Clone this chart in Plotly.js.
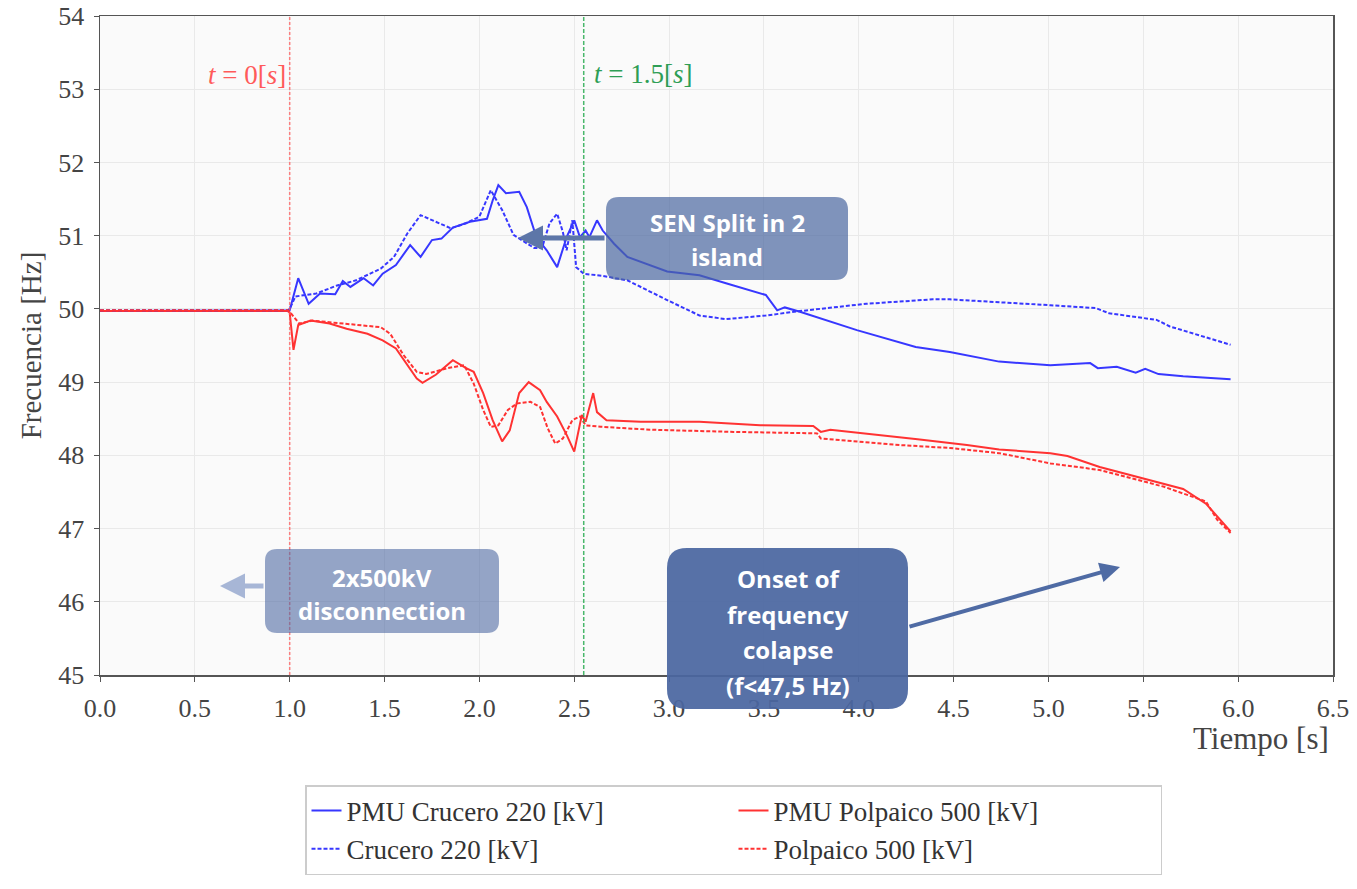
<!DOCTYPE html>
<html>
<head>
<meta charset="utf-8">
<script src="https://cdn.plot.ly/plotly-3.0.1.min.js"></script>
<style>html,body{margin:0;padding:0;background:#fff;}#chart{width:1357px;height:889px;}</style>
</head>
<body>
<div id="chart"></div>
<script>
// ---- Data ----
const tPmuCrucero = [0.0, 0.5, 0.99, 1.00, 1.045, 1.10, 1.16, 1.24, 1.28, 1.32, 1.39, 1.44, 1.49, 1.56, 1.635, 1.69, 1.75, 1.80, 1.86, 1.95, 2.04, 2.07, 2.10, 2.14, 2.21, 2.25, 2.30, 2.355, 2.41, 2.46, 2.50, 2.53, 2.56, 2.58, 2.62, 2.65, 2.71, 2.78, 2.99, 3.16, 3.30, 3.51, 3.57, 3.61, 3.69, 3.99, 4.30, 4.48, 4.74, 5.01, 5.22, 5.26, 5.36, 5.46, 5.51, 5.58, 5.71, 5.96];
const fPmuCrucero = [49.97, 49.97, 49.97, 49.98, 50.42, 50.07, 50.21, 50.20, 50.38, 50.30, 50.42, 50.32, 50.48, 50.60, 50.87, 50.71, 50.94, 50.96, 51.11, 51.19, 51.23, 51.48, 51.69, 51.58, 51.60, 51.39, 50.98, 50.80, 50.57, 50.98, 51.21, 50.98, 51.07, 50.98, 51.21, 51.07, 50.89, 50.71, 50.51, 50.46, 50.35, 50.19, 49.98, 50.02, 49.96, 49.71, 49.48, 49.41, 49.28, 49.23, 49.26, 49.19, 49.21, 49.13, 49.18, 49.11, 49.08, 49.04];

const tSimCrucero = [0.0, 0.99, 1.00, 1.03, 1.14, 1.25, 1.35, 1.48, 1.55, 1.62, 1.69, 1.77, 1.85, 1.93, 2.00, 2.06, 2.12, 2.18, 2.21, 2.29, 2.33, 2.37, 2.41, 2.44, 2.46, 2.49, 2.51, 2.55, 2.65, 2.78, 2.99, 3.16, 3.30, 3.51, 3.69, 4.04, 4.39, 4.48, 5.01, 5.25, 5.32, 5.57, 5.64, 5.96];
const fSimCrucero = [49.98, 49.98, 50.00, 50.17, 50.21, 50.32, 50.39, 50.55, 50.71, 51.03, 51.28, 51.19, 51.10, 51.17, 51.26, 51.62, 51.35, 51.01, 50.96, 50.83, 50.83, 51.17, 51.30, 51.05, 50.80, 51.21, 50.57, 50.48, 50.45, 50.39, 50.12, 49.91, 49.86, 49.91, 49.97, 50.07, 50.13, 50.13, 50.05, 50.01, 49.94, 49.85, 49.76, 49.51];

const tPmuPolpaico = [0.0, 0.99, 1.00, 1.02, 1.045, 1.11, 1.21, 1.30, 1.41, 1.49, 1.56, 1.62, 1.67, 1.70, 1.77, 1.86, 1.93, 1.97, 2.02, 2.07, 2.12, 2.16, 2.21, 2.26, 2.32, 2.355, 2.41, 2.46, 2.50, 2.54, 2.56, 2.60, 2.62, 2.67, 2.85, 3.16, 3.48, 3.76, 3.80, 3.85, 4.04, 4.31, 4.57, 4.74, 5.01, 5.10, 5.27, 5.535, 5.71, 5.83, 5.89, 5.96];
const fPmuPolpaico = [49.97, 49.97, 49.95, 49.44, 49.78, 49.84, 49.80, 49.73, 49.66, 49.57, 49.46, 49.23, 49.05, 48.99, 49.10, 49.30, 49.19, 49.14, 48.85, 48.48, 48.19, 48.34, 48.85, 49.00, 48.89, 48.73, 48.53, 48.28, 48.05, 48.55, 48.46, 48.85, 48.59, 48.48, 48.46, 48.46, 48.41, 48.40, 48.32, 48.35, 48.30, 48.22, 48.14, 48.08, 48.03, 47.99, 47.84, 47.66, 47.54, 47.34, 47.16, 46.96];

const tSimPolpaico = [0.0, 0.99, 1.00, 1.05, 1.12, 1.39, 1.48, 1.53, 1.60, 1.67, 1.72, 1.83, 1.92, 1.97, 2.02, 2.06, 2.10, 2.15, 2.20, 2.27, 2.32, 2.36, 2.40, 2.44, 2.49, 2.53, 2.56, 2.64, 2.90, 3.34, 3.78, 3.80, 4.22, 4.48, 4.74, 5.01, 5.27, 5.61, 5.83, 5.89, 5.96];
const fSimPolpaico = [49.98, 49.98, 49.96, 49.80, 49.84, 49.78, 49.75, 49.66, 49.37, 49.14, 49.11, 49.19, 49.23, 48.98, 48.62, 48.39, 48.41, 48.62, 48.71, 48.73, 48.66, 48.37, 48.16, 48.23, 48.48, 48.53, 48.41, 48.39, 48.35, 48.32, 48.30, 48.23, 48.14, 48.10, 48.03, 47.89, 47.80, 47.57, 47.37, 47.12, 46.94];

const seriesNames = ['PMU Crucero 220 [kV]', 'PMU Polpaico 500 [kV]', 'Crucero 220 [kV]', 'Polpaico 500 [kV]'];
const eventTimes = [1.0, 2.55];
const eventLabels = ['<i>t</i> = 0[<i>s</i>]', '<i>t</i> = 1.5[<i>s</i>]'];
const boxTextSplit = ['SEN Split in 2', 'island'];
const boxTextDisc = ['2x500kV', 'disconnection'];
const boxTextOnset = ['Onset of', 'frequency', 'colapse', '(f<47,5 Hz)'];

// ---- Styling / layout helpers ----
const BLUE = 'rgb(55,55,255)';
const RED = 'rgb(255,50,50)';
const SERIF = 'Liberation Serif, DejaVu Serif, serif';
const M = {l: 100, r: 24, t: 16, b: 214};
const PW = 1357 - M.l - M.r, PH = 889 - M.t - M.b;
const px = x => (x - M.l) / PW;
const py = y => (889 - M.b - y) / PH;

function roundRect(x0, y0, x1, y1, r) {
  const P = (x, y) => px(x).toFixed(5) + ',' + py(y).toFixed(5);
  return 'M' + P(x0 + r, y0) + ' L' + P(x1 - r, y0) + ' Q' + P(x1, y0) + ' ' + P(x1, y0 + r) +
    ' L' + P(x1, y1 - r) + ' Q' + P(x1, y1) + ' ' + P(x1 - r, y1) +
    ' L' + P(x0 + r, y1) + ' Q' + P(x0, y1) + ' ' + P(x0, y1 - r) +
    ' L' + P(x0, y0 + r) + ' Q' + P(x0, y0) + ' ' + P(x0 + r, y0) + ' Z';
}

const traces = [
  {x: tPmuCrucero, y: fPmuCrucero, name: seriesNames[0], mode: 'lines', line: {color: BLUE, width: 2}},
  {x: tPmuPolpaico, y: fPmuPolpaico, name: seriesNames[1], mode: 'lines', line: {color: RED, width: 2}},
  {x: tSimCrucero, y: fSimCrucero, name: seriesNames[2], mode: 'lines', line: {color: BLUE, width: 2, dash: '4px,2px'}},
  {x: tSimPolpaico, y: fSimPolpaico, name: seriesNames[3], mode: 'lines', line: {color: RED, width: 2, dash: '4px,2px'}}
];

const boxFont = {family: 'Open Sans, Lato, sans-serif', size: 24, color: '#ffffff', weight: 700};
function boxLines(lines, cx, ys) {
  return lines.map((t, i) => ({
    xref: 'paper', yref: 'paper', x: px(cx), y: py(ys[i]), xanchor: 'center', yanchor: 'middle',
    text: t.replace('<', '&lt;'), showarrow: false, font: boxFont
  }));
}
function arrow(hx, hy, tx, ty, color, w) {
  return {xref: 'paper', yref: 'paper', x: px(hx), y: py(hy), ax: tx - hx, ay: ty - hy,
    axref: 'pixel', ayref: 'pixel', text: '', showarrow: true, arrowhead: 2, arrowsize: 1,
    arrowwidth: w, arrowcolor: color};
}

const annotations = [
  {xref: 'x', yref: 'paper', x: eventTimes[0], xshift: -2, y: py(75), xanchor: 'right', yanchor: 'middle',
    text: eventLabels[0], showarrow: false, font: {family: SERIF, size: 27, color: '#ff5a5a'}},
  {xref: 'x', yref: 'paper', x: eventTimes[1], xshift: 8, y: py(74), xanchor: 'left', yanchor: 'middle',
    text: eventLabels[1], showarrow: false, font: {family: SERIF, size: 27, color: '#2e9e55'}},
  {xref: 'paper', yref: 'paper', x: px(1331), y: py(738), xanchor: 'right', yanchor: 'middle',
    text: 'Tiempo [s]', showarrow: false, font: {family: SERIF, size: 31, color: '#444'}},
  arrow(518, 238, 606, 238, '#5d76a8', 5),
  arrow(220, 586, 265, 586, '#a7b6d6', 5),
  arrow(1120, 567, 908, 627, '#4f6ba4', 4),
  ...boxLines(boxTextSplit, 727, [222, 256]),
  ...boxLines(boxTextDisc, 382, [577, 610]),
  ...boxLines(boxTextOnset, 788, [578, 614, 649, 685])
];

const shapes = [
  {type: 'line', xref: 'x', yref: 'paper', x0: eventTimes[0], x1: eventTimes[0], y0: 0, y1: 1,
    line: {color: 'rgba(255,90,90,0.75)', width: 1.5, dash: '3px,2px'}, layer: 'above'},
  {type: 'line', xref: 'x', yref: 'paper', x0: eventTimes[1], x1: eventTimes[1], y0: 0, y1: 1,
    line: {color: 'rgba(40,170,80,0.85)', width: 1.5, dash: '4px,2px'}, layer: 'above'},
  {type: 'path', xref: 'paper', yref: 'paper', path: roundRect(606, 197, 848, 280, 13),
    fillcolor: 'rgba(74,102,160,0.70)', line: {width: 0}, layer: 'above'},
  {type: 'path', xref: 'paper', yref: 'paper', path: roundRect(265, 549, 499, 633, 12),
    fillcolor: 'rgba(74,102,160,0.58)', line: {width: 0}, layer: 'above'},
  {type: 'path', xref: 'paper', yref: 'paper', path: roundRect(667, 548, 908, 709, 20),
    fillcolor: 'rgba(74,102,160,0.93)', line: {width: 0}, layer: 'above'}
];

const tickFont = {family: SERIF, size: 26, color: '#444'};
const layout = {
  width: 1357, height: 889, margin: M,
  paper_bgcolor: '#ffffff', plot_bgcolor: '#fafafa',
  showlegend: true,
  xaxis: {range: [0, 6.5], dtick: 0.5, tick0: 0, tickformat: '.1f', showgrid: true, gridcolor: '#e9e9e9', gridwidth: 1,
    zeroline: false, showline: true, linecolor: '#555', linewidth: 1.5, mirror: true,
    ticks: 'outside', ticklen: 5, tickcolor: '#555', tickfont: tickFont, ticklabelstandoff: 4},
  yaxis: {range: [45, 54], dtick: 1, tick0: 45, showgrid: true, gridcolor: '#e9e9e9', gridwidth: 1,
    zeroline: false, showline: true, linecolor: '#555', linewidth: 1.5, mirror: true,
    ticks: 'outside', ticklen: 5, tickcolor: '#555', tickfont: tickFont, ticklabelstandoff: 4,
    title: {text: 'Frecuencia [Hz]', font: {family: SERIF, size: 29, color: '#444'}, standoff: 8}},
  legend: {orientation: 'h', x: px(305), xanchor: 'left', y: py(785), yanchor: 'top',
    entrywidth: 382, entrywidthmode: 'pixels', traceorder: 'normal',
    font: {family: SERIF, size: 27, color: '#333'}, bgcolor: '#ffffff', bordercolor: '#cccccc', borderwidth: 1.5},
  annotations: annotations,
  shapes: shapes
};

Plotly.newPlot('chart', traces, layout, {displayModeBar: false, staticPlot: true});
</script>
</body>
</html>
